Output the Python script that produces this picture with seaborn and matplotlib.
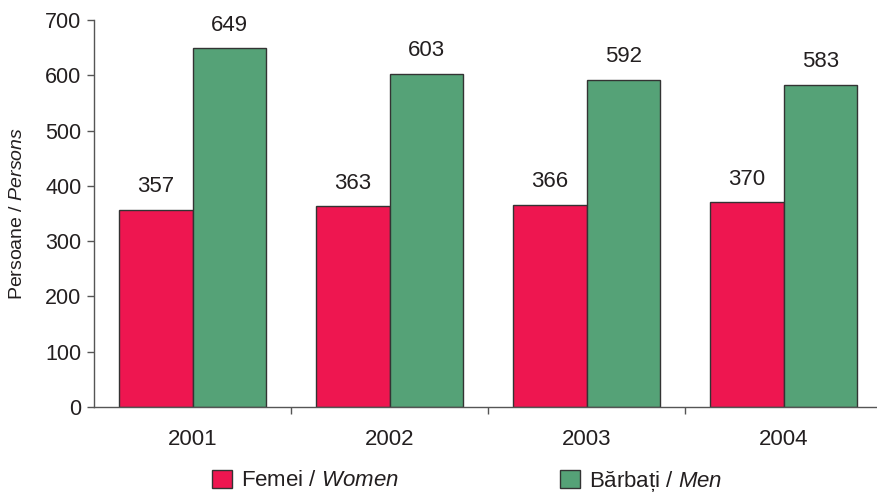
import matplotlib
matplotlib.use("Agg")
import matplotlib.pyplot as plt
import seaborn as sns
import pandas as pd
from matplotlib.patches import Patch

years = ["2001", "2002", "2003", "2004"]
women = [357, 363, 366, 370]
men = [649, 603, 592, 583]
series_names = ["Femei / Women", "Bărbați / Men"]
colors = ["#EE1650", "#55A277"]

df = pd.DataFrame({
    "year": years * 2,
    "value": women + men,
    "sex": [series_names[0]] * 4 + [series_names[1]] * 4,
})

sns.set_theme(style="white")
plt.rcParams["font.family"] = ["Liberation Sans", "DejaVu Sans"]
plt.rcParams["mathtext.fontset"] = "custom"
plt.rcParams["mathtext.it"] = "Liberation Sans:italic"
plt.rcParams["mathtext.rm"] = "Liberation Sans"
plt.rcParams["text.color"] = "#231f20"

fig = plt.figure(figsize=(8.77, 4.92), dpi=100)
ax = fig.add_axes([94 / 877, 1 - 407 / 492, 788 / 877, 387 / 492])

sns.barplot(data=df, x="year", y="value", hue="sex", palette=colors,
            width=0.75, edgecolor="#333333", linewidth=1.0, ax=ax,
            legend=False, saturation=1)

for cont in ax.containers:
    ax.bar_label(cont, padding=9, fontsize=16, color="#231f20")

ax.set_ylim(0, 700)
ax.set_xlim(-0.5, 3.5)
ax.set_yticks(range(0, 701, 100))
ax.set_xlabel("")
ax.set_ylabel("Persoane / $\\it{Persons}$", fontsize=14, color="#231f20", labelpad=14)

for s in ["top", "right"]:
    ax.spines[s].set_visible(False)
for s in ["left", "bottom"]:
    ax.spines[s].set_color("#555555")
    ax.spines[s].set_linewidth(1.0)

ax.tick_params(axis="y", which="major", length=5, width=1, color="#555555",
               labelsize=15.5, labelcolor="#231f20", left=True, direction="out", pad=4)
ax.tick_params(axis="x", which="major", length=0, labelsize=16,
               labelcolor="#231f20", pad=16)
ax.set_xticks([0.5, 1.5, 2.5], minor=True)
ax.tick_params(axis="x", which="minor", length=5, width=1, color="#555555",
               bottom=True, direction="out")

handles = [Patch(facecolor=colors[0], edgecolor="#333333"),
           Patch(facecolor=colors[1], edgecolor="#333333")]
labels = ["Femei / $\\it{Women}$", "Bărbați / $\\it{Men}$"]
fig.legend(handles, labels, loc="center", bbox_to_anchor=(467 / 877, 1 - 481 / 492),
           ncol=2, frameon=False, fontsize=16, handlelength=0.9, handleheight=0.9,
           handletextpad=0.4, columnspacing=7.25, borderpad=0.2)

fig.savefig("out.png", dpi=100)
